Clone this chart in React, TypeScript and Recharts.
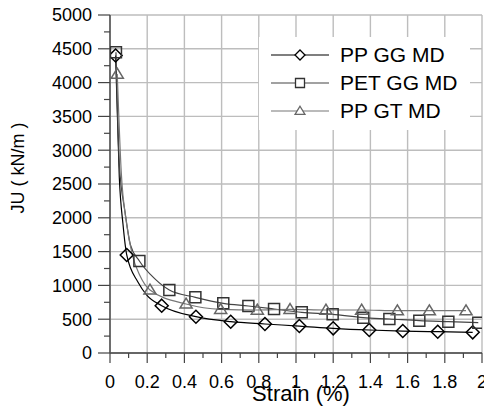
import React from "react";
import {
  ComposedChart,
  Line,
  Scatter,
  XAxis,
  YAxis,
  CartesianGrid,
  Legend,
} from "recharts";

// markers
const PP_GG_X = [0.03, 0.09, 0.278, 0.462, 0.649, 0.833, 1.018, 1.2, 1.394, 1.574, 1.762, 1.95];
const PP_GG_Y = [4400, 1450, 700, 537, 463, 429, 399, 365, 340, 325, 315, 306];
const PET_GG_X = [0.032, 0.158, 0.319, 0.459, 0.609, 0.744, 0.882, 1.031, 1.197, 1.362, 1.502, 1.663, 1.819, 1.98];
const PET_GG_Y = [4448, 1361, 932, 824, 735, 695, 651, 602, 572, 522, 503, 478, 463, 448];
const PP_GT_X = [0.039, 0.215, 0.409, 0.595, 0.792, 0.968, 1.161, 1.353, 1.545, 1.717, 1.914];
const PP_GT_Y = [4127, 932, 725, 646, 636, 646, 636, 636, 626, 626, 626];

// extra (unmarked) points the curves pass through in the steep part
const PP_GG_EXTRA_X = [0.05, 0.07, 0.15, 0.2];
const PP_GG_EXTRA_Y = [2600, 1900, 1050, 850];
const PET_GG_EXTRA_X = [0.05, 0.08, 0.11, 0.24];
const PET_GG_EXTRA_Y = [2800, 2100, 1600, 1100];
const PP_GT_EXTRA_X = [0.06, 0.09, 0.12, 0.16];
const PP_GT_EXTRA_Y = [2700, 1900, 1450, 1150];

const SERIES_NAMES = ["PP GG MD", "PET GG MD", "PP GT MD"];
const X_TICKS = [0, 0.1, 0.2, 0.3, 0.4, 0.5, 0.6, 0.7, 0.8, 0.9, 1, 1.1, 1.2, 1.3, 1.4, 1.5, 1.6, 1.7, 1.8, 1.9, 2];
const Y_TICKS = [0, 250, 500, 750, 1000, 1250, 1500, 1750, 2000, 2250, 2500, 2750, 3000, 3250, 3500, 3750, 4000, 4250, 4500, 4750, 5000];
const X_GRID = [0, 0.2, 0.4, 0.6, 0.8, 1, 1.2, 1.4, 1.6, 1.8, 2];
const Y_GRID = [0, 500, 1000, 1500, 2000, 2500, 3000, 3500, 4000, 4500, 5000];

const FONT = "'Liberation Sans', Arial, sans-serif";

const toPoints = (xs: number[], ys: number[]) => xs.map((x, i) => ({ x, y: ys[i] }));
const toCurve = (xs: number[], ys: number[], ex: number[], ey: number[]) =>
  [...toPoints(xs, ys), ...toPoints(ex, ey)].sort((a, b) => a.x - b.x);

const series = [
  {
    name: SERIES_NAMES[0],
    marker: "diamond",
    color: "#000",
    lineColor: "#000",
    points: toPoints(PP_GG_X, PP_GG_Y),
    curve: toCurve(PP_GG_X, PP_GG_Y, PP_GG_EXTRA_X, PP_GG_EXTRA_Y),
  },
  {
    name: SERIES_NAMES[1],
    marker: "square",
    color: "#333",
    lineColor: "#444",
    points: toPoints(PET_GG_X, PET_GG_Y),
    curve: toCurve(PET_GG_X, PET_GG_Y, PET_GG_EXTRA_X, PET_GG_EXTRA_Y),
  },
  {
    name: SERIES_NAMES[2],
    marker: "triangle",
    color: "#666",
    lineColor: "#777",
    points: toPoints(PP_GT_X, PP_GT_Y),
    curve: toCurve(PP_GT_X, PP_GT_Y, PP_GT_EXTRA_X, PP_GT_EXTRA_Y),
  },
];

function markerPath(kind: string, cx: number, cy: number, r: number) {
  if (kind === "diamond") {
    return `M${cx},${cy - r} L${cx + r},${cy} L${cx},${cy + r} L${cx - r},${cy} Z`;
  }
  if (kind === "square") {
    return `M${cx - r},${cy - r} H${cx + r} V${cy + r} H${cx - r} Z`;
  }
  return `M${cx},${cy - r * 1.05} L${cx + r * 1.1},${cy + r * 0.75} L${cx - r * 1.1},${cy + r * 0.75} Z`;
}

const makeShape = (kind: string, color: string) => (props: any) => {
  const { cx, cy } = props;
  if (cx == null || cy == null) return <g />;
  return (
    <path
      d={markerPath(kind, cx, cy, kind === "diamond" ? 6.5 : 5.5)}
      fill="none"
      stroke={color}
      strokeWidth={1.5}
    />
  );
};

const YTick = (props: any) => {
  const { x, y, payload } = props;
  const major = payload.value % 500 === 0;
  return (
    <g>
      <line x1={x - (major ? 12 : 6)} x2={x} y1={y} y2={y} stroke="#444" strokeWidth={1.2} />
      {major && (
        <text x={x - 18} y={y} dy="0.36em" textAnchor="end" fontSize={18} fontFamily={FONT} fill="#000">
          {payload.value}
        </text>
      )}
    </g>
  );
};

const XTick = (props: any) => {
  const { x, y, payload } = props;
  const major = Math.round(payload.value * 10) % 2 === 0;
  return (
    <g>
      <line x1={x} x2={x} y1={y} y2={y + (major ? 10 : 5)} stroke="#444" strokeWidth={1.2} />
      {major && (
        <text x={x} y={y + 35} textAnchor="middle" fontSize={18} fontFamily={FONT} fill="#000">
          {String(Number(payload.value.toFixed(1)))}
        </text>
      )}
    </g>
  );
};

const XTitle = (props: any) => {
  const { viewBox } = props;
  const cx = viewBox.x + viewBox.width / 2 + 5;
  return (
    <g>
      <rect x={cx - 96} y={viewBox.y + 27} width={186} height={30} fill="#fff" />
      <text x={cx} y={viewBox.y + 48} textAnchor="middle" fontSize={22} fontFamily={FONT} fill="#000">
        Strain (%)
      </text>
    </g>
  );
};

const YTitle = (props: any) => {
  const { viewBox } = props;
  const cy = viewBox.y + viewBox.height / 2 - 16;
  return (
    <text
      x={18}
      y={cy}
      transform={`rotate(-90, 18, ${cy})`}
      textAnchor="middle"
      dy="0.35em"
      fontSize={18}
      fontFamily={FONT}
      fill="#000"
    >
      JU ( kN/m )
    </text>
  );
};

const LegendBox = () => (
  <div
    style={{
      background: "#fff",
      width: 211,
      height: 93,
      boxSizing: "border-box",
      paddingTop: 4,
      fontFamily: FONT,
      fontSize: 21,
    }}
  >
    {series.map((s) => (
      <div key={s.name} style={{ display: "flex", alignItems: "center", height: 28 }}>
        <svg width={81} height={28} style={{ display: "block" }}>
          <line x1={12} x2={70} y1={14} y2={14} stroke={s.lineColor} strokeWidth={1.2} />
          <path
            d={markerPath(s.marker, 41, 14, s.marker === "diamond" ? 5 : 4.5)}
            fill="#fff"
            stroke={s.color}
            strokeWidth={1.3}
          />
        </svg>
        <span style={{ color: "#000", whiteSpace: "nowrap" }}>{s.name}</span>
      </div>
    ))}
  </div>
);

export default function App() {
  return (
    <div style={{ position: "absolute", left: 0, top: 0, background: "#fff" }}>
      <ComposedChart width={484} height={418} margin={{ top: 15, right: 2, bottom: 0, left: 0 }}>
        <CartesianGrid
          stroke="#bdbdbd"
          strokeWidth={1.4}
          horizontalValues={Y_GRID}
          verticalValues={X_GRID}
        />
        <XAxis
          type="number"
          dataKey="x"
          domain={[0, 2]}
          ticks={X_TICKS}
          interval={0}
          height={65}
          tickSize={0}
          tickMargin={0}
          tickLine={false}
          tick={<XTick />}
          axisLine={{ stroke: "#000", strokeWidth: 1.2 }}
          allowDataOverflow
          label={{ content: <XTitle /> }}
        />
        <YAxis
          type="number"
          dataKey="y"
          domain={[0, 5000]}
          ticks={Y_TICKS}
          interval={0}
          width={110}
          tickSize={0}
          tickMargin={0}
          tickLine={false}
          tick={<YTick />}
          axisLine={{ stroke: "#555", strokeWidth: 1.6 }}
          label={{ content: <YTitle /> }}
        />
        {series.map((s) => (
          <Line
            key={"l" + s.name}
            data={s.curve}
            dataKey="y"
            type="monotone"
            stroke={s.lineColor}
            strokeWidth={1.2}
            dot={false}
            activeDot={false}
            legendType="none"
            isAnimationActive={false}
          />
        ))}
        {series.map((s) => (
          <Scatter
            key={"s" + s.name}
            name={s.name}
            data={s.points}
            dataKey="y"
            shape={makeShape(s.marker, s.color)}
            isAnimationActive={false}
          />
        ))}
        <Legend
          layout="vertical"
          align="center"
          verticalAlign="middle"
          wrapperStyle={{ top: 37, left: 259, width: 211, height: 93 }}
          content={<LegendBox />}
        />
      </ComposedChart>
    </div>
  );
}
